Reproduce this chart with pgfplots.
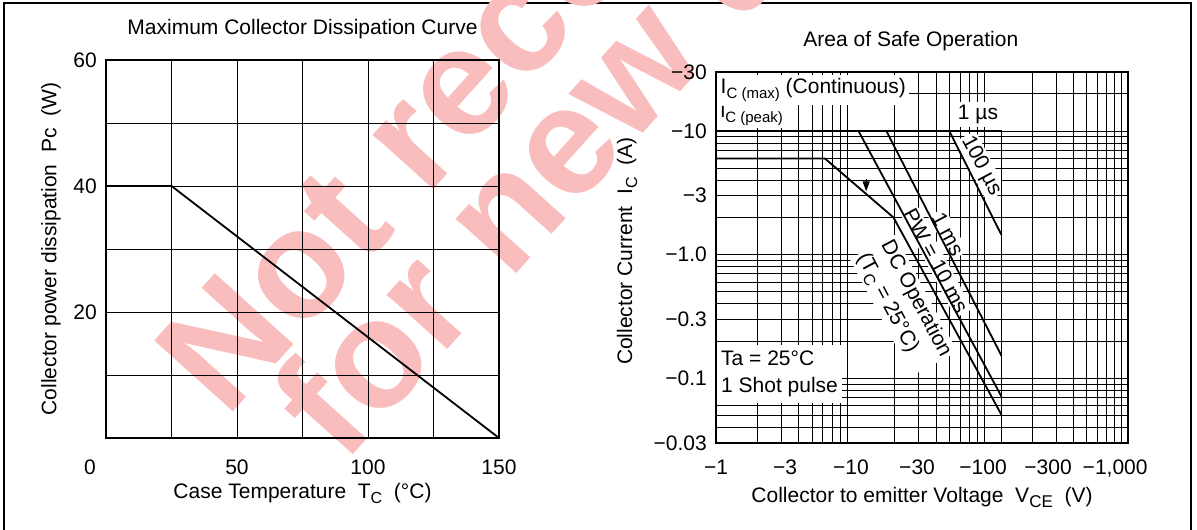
\documentclass[border=0pt]{standalone}
\usepackage{fontspec}
\setmainfont{Liberation Sans}
\usepackage{pgfplots}
\pgfplotsset{compat=1.18}
\usetikzlibrary{arrows.meta}

\definecolor{wm}{RGB}{249,189,189}
\newcommand{\fnt}{\fontsize{21}{25}\selectfont}
\newcommand{\sbs}[2][16]{\raisebox{-5pt}{\fontsize{#1}{#1}\selectfont #2}}

\pgfplotsset{
  sheet/.style={
    anchor=south west, scale only axis,
    major tick length=0pt, minor tick length=0pt,
    axis line style={line width=1.3pt},
    major grid style={black, line width=0.9pt},
    minor grid style={black, line width=0.9pt},
    tick label style={font=\fnt},
    yticklabel style={anchor=east, inner sep=0pt, xshift=-9pt},
    label style={font=\fnt},
    title style={font=\fnt, anchor=center},
  }
}

\begin{document}
\begin{tikzpicture}[x=1pt,y=1pt]
\useasboundingbox (0,0) rectangle (1197,530);
\draw[line width=1.5pt] (4,0) -- (4,527) -- (1191,527) -- (1191,0);

% watermark
\node[wm, font=\fontsize{154}{154}\selectfont\bfseries, rotate=48, anchor=base west, inner sep=0pt]
  at (226,110) {Not recommended};
\node[wm, font=\fontsize{154}{154}\selectfont\bfseries, rotate=48, anchor=base west, inner sep=0pt]
  at (343,64) {for new design};

% left: maximum collector dissipation
\begin{axis}[sheet,
  at={(106pt,92pt)}, width=393pt, height=378pt,
  xmin=0, xmax=150, ymin=0, ymax=60,
  xtick={0,25,...,150}, xticklabels={,,50,,100,,150},
  ytick={0,10,...,60}, yticklabels={,,20,,40,,60},
  xmajorgrids, ymajorgrids,
  xticklabel style={anchor=north, inner sep=0pt, yshift=-22pt},
  title={Maximum Collector Dissipation Curve},
  title style={at={(axis description cs:0.5,1.067)}},
  xlabel={Case Temperature~~T\sbs{C}~~(°C)},
  xlabel style={at={(axis description cs:0.5,-0.148)}, anchor=center},
  ylabel={Collector power dissipation~~Pc~~(W)},
  ylabel style={at={(axis description cs:-0.14,0.5)}, anchor=center},
  clip=false,
]
\addplot[black, line width=1.8pt] coordinates {(0,40) (25,40) (150,0)};
\node[font=\fnt, anchor=north, inner sep=0pt, xshift=-16pt, yshift=-22pt] at (axis cs:0,0) {0};
\end{axis}

% right: area of safe operation
\begin{axis}[sheet,
  at={(716pt,87pt)}, width=412pt, height=371pt,
  xmode=log, ymode=log,
  xmin=1, xmax=1000, ymin=0.03, ymax=30,
  xtick={1,3.18,9.62,29.1,88.1,261.8,805.9},
  xticklabels={−1,−3,−10,−30,−100,−300,{−1,000}},
  minor xtick={2,3,4,5,6,7,8,9,20,30,40,50,60,70,80,90,200,300,400,500,600,700,800,900},
  ytick={0.03,0.1,0.3,1,3,10,30},
  yticklabels={−0.03,−0.1,−0.3,−1.0,−3,−10,−30},
  minor ytick={0.04,0.05,0.06,0.07,0.08,0.09,0.2,0.4,0.5,0.6,0.7,0.8,0.9,2,4,5,6,7,8,9,20},
  xmajorgrids=false, xminorgrids, ymajorgrids, yminorgrids,
  xticklabel style={anchor=north, inner sep=0pt, yshift=-17pt},
  title={Area of Safe Operation},
  title style={at={(axis description cs:0.473,1.067)}},
  xlabel={Collector to emitter Voltage~~V\sbs[17]{CE}~~(V)},
  xlabel style={at={(axis description cs:0.5,-0.146)}, anchor=center},
  ylabel={Collector Current~~I\sbs{C}~~(A)},
  ylabel style={at={(axis description cs:-0.216,0.517)}, anchor=center},
]
% labels with white backing, under the curves
\node[fill=white, font=\fnt, anchor=north west, inner xsep=3.5pt, inner ysep=3pt]
  at (rel axis cs:0,1) [xshift=1pt, yshift=-26.7pt] {i\sbs[15]{C (peak)}};
\node[fill=white, font=\fnt, anchor=north west, inner xsep=3.5pt, inner ysep=3pt]
  at (rel axis cs:0,1) [xshift=1pt, yshift=-3pt] {I\sbs[15]{C (max)}~(Continuous)};
\node[fill=white, font=\fnt, inner sep=3pt] at (axis cs:80.9,13.5) {1 µs};
\node[fill=white, font=\fnt, rotate=-62, inner sep=2pt] at (axis cs:85.1,5.22) {100 µs};
\node[fill=white, font=\fnt, rotate=-62, inner sep=2pt] at (axis cs:48.9,1.47) {1 ms};
\node[fill=white, font=\fnt, rotate=-62, inner sep=2pt] at (axis cs:40,0.89) {PW = 10 ms};
\node[fill=white, font=\fontsize{21}{27}\selectfont, rotate=-62, inner sep=2pt, align=left]
  at (axis cs:23.2,0.389) {DC Operation\\(T\sbs{C} = 25°C)};
\node[fill=white, font=\fontsize{21}{26.3}\selectfont, anchor=north west, inner xsep=4pt, inner ysep=6pt, align=left]
  at (rel axis cs:0,1) [xshift=1pt, yshift=-273pt] {Ta = 25°C\\1 Shot pulse};

\addplot[black, line width=1.8pt] coordinates {(1,10) (120,10) (120,0.03)};
\addplot[black, line width=1.8pt] coordinates {(1,6) (6.2,6) (19.6,2.0) (120,0.0506)};
\addplot[black, line width=1.8pt] coordinates {(50,10) (120,1.44)};
\addplot[black, line width=1.8pt] coordinates {(17.4,10) (120,0.152)};
\addplot[black, line width=1.8pt] coordinates {(10.9,10) (120,0.0711)};
\draw[-{Triangle[length=10pt,width=7pt]}, line width=1pt] (axis cs:12.4,4.1) -- (axis cs:12.4,3.25);
\draw[line width=1.3pt] (rel axis cs:0,0) rectangle (rel axis cs:1,1);
\end{axis}
\end{tikzpicture}
\end{document}
